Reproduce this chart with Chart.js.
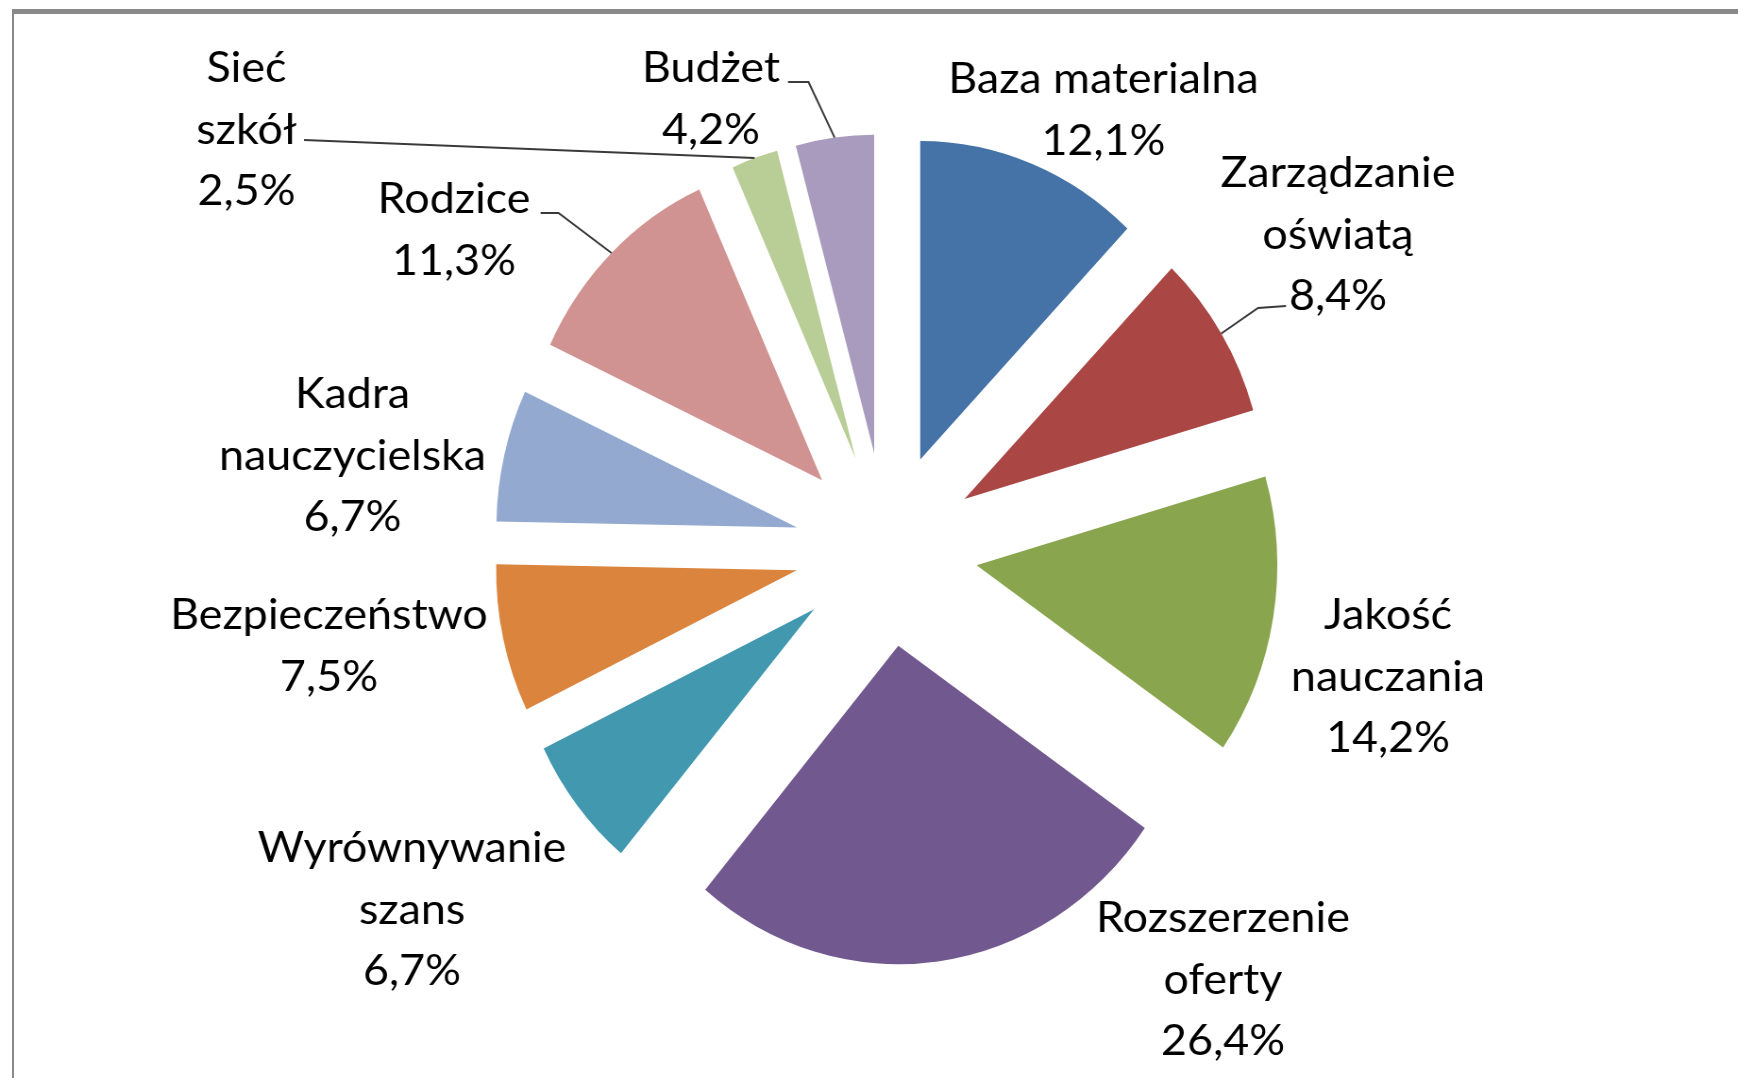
<!DOCTYPE html>
<html>
<head>
<meta charset="utf-8">
<script src="https://cdn.jsdelivr.net/npm/chart.js@4.4.1/dist/chart.umd.min.js"></script>
<style>
  html, body { margin: 0; padding: 0; background: #ffffff; overflow: hidden; }
  body { width: 1738px; height: 1078px; position: relative; }
  #frame { position: absolute; left: 12px; top: 9px; width: 1800px; height: 1200px;
           border-top: 5px solid #898989; border-left: 2px solid #898989; box-sizing: border-box; }
  #wrap { position: absolute; left: 0; top: 0; width: 1841px; height: 1078px;
          transform: scaleX(0.944); transform-origin: 0 0; }
</style>
</head>
<body>
<div id="frame"></div>
<div id="wrap"><canvas id="c" width="1841" height="1078"></canvas></div>
<script>
// ---- data ----
const categories = [
  ['Baza materialna'],
  ['Zarządzanie', 'oświatą'],
  ['Jakość', 'nauczania'],
  ['Rozszerzenie', 'oferty'],
  ['Wyrównywanie', 'szans'],
  ['Bezpieczeństwo'],
  ['Kadra', 'nauczycielska'],
  ['Rodzice'],
  ['Sieć', 'szkół'],
  ['Budżet']
];
const values = [12.1, 8.4, 14.2, 26.4, 6.7, 7.5, 6.7, 11.3, 2.5, 4.2];
const colors = ['#4572A7', '#AA4643', '#89A54E', '#71588F', '#4198AF',
                '#DB843D', '#93A9CF', '#D19392', '#B9CD96', '#A99BBD'];

// ---- layout (label anchors in page pixels; y = first baseline) ----
const SX = 0.944;
const TEXT_SX = 1.13;
const EXPLODE = 97;
const RADIUS = 318.5;
const FONT_SIZE = 42;
const LINE_H = 61.7;
const labelLayout = [
  { x: 1103.5, y: 93 },
  { x: 1338, y: 187, leader: [[1286, 306], [1258, 308]] },
  { x: 1388, y: 629 },
  { x: 1223, y: 932 },
  { x: 412, y: 862 },
  { x: 329, y: 629 },
  { x: 352.5, y: 408 },
  { x: 454, y: 213, leader: [[540.6, 213], [558.5, 213]] },
  { x: 246.5, y: 82, leader: [[304, 140]] },
  { x: 711, y: 82, leader: [[788, 82], [808.5, 82]] }
];

const fmt = v => v.toFixed(1).replace('.', ',') + '%';

const explodePlugin = {
  id: 'explode',
  beforeDatasetDraw(chart, args) {
    const ctx = chart.ctx;
    const meta = chart.getDatasetMeta(args.index);
    meta.data.forEach(arc => {
      const mid = (arc.startAngle + arc.endAngle) / 2;
      ctx.save();
      ctx.translate(Math.cos(mid) * EXPLODE, Math.sin(mid) * EXPLODE);
      arc.draw(ctx);
      ctx.restore();
    });
    return false;
  }
};

const labelPlugin = {
  id: 'pieLabels',
  afterDatasetsDraw(chart) {
    const ctx = chart.ctx;
    const meta = chart.getDatasetMeta(0);
    ctx.save();
    ctx.font = FONT_SIZE + 'px Lato';
    ctx.fillStyle = '#000000';
    ctx.textAlign = 'center';
    ctx.textBaseline = 'alphabetic';
    ctx.strokeStyle = '#3a3a3a';
    ctx.lineWidth = 2;
    meta.data.forEach((arc, i) => {
      const L = labelLayout[i];
      const lines = categories[i].concat([fmt(values[i])]);
      lines.forEach((t, k) => {
        ctx.save();
        ctx.translate(L.x / SX, L.y + k * LINE_H);
        ctx.scale(TEXT_SX, 1);
        ctx.fillText(t, 0, 0);
        ctx.restore();
      });
      if (L.leader) {
        const mid = (arc.startAngle + arc.endAngle) / 2;
        const rr = arc.outerRadius + EXPLODE;
        const px = arc.x + Math.cos(mid) * rr;
        const py = arc.y + Math.sin(mid) * rr;
        ctx.beginPath();
        ctx.moveTo(L.leader[0][0] / SX, L.leader[0][1]);
        for (let k = 1; k < L.leader.length; k++) ctx.lineTo(L.leader[k][0] / SX, L.leader[k][1]);
        ctx.lineTo(px, py);
        ctx.stroke();
      }
    });
    ctx.restore();
  }
};

function draw() {
  new Chart(document.getElementById('c'), {
    type: 'pie',
    data: {
      labels: categories,
      datasets: [{
        data: values,
        backgroundColor: colors,
        borderWidth: 0,
        radius: RADIUS
      }]
    },
    options: {
      responsive: false,
      devicePixelRatio: 1,
      animation: false,
      events: [],
      layout: { padding: { left: 36.6, right: 0, top: 21, bottom: 0 } },
      plugins: { legend: { display: false }, tooltip: { enabled: false }, title: { display: false } }
    },
    plugins: [explodePlugin, labelPlugin]
  });
}
if (document.fonts && document.fonts.load) {
  document.fonts.load(FONT_SIZE + 'px Lato').then(draw, draw);
} else { draw(); }
</script>
</body>
</html>
